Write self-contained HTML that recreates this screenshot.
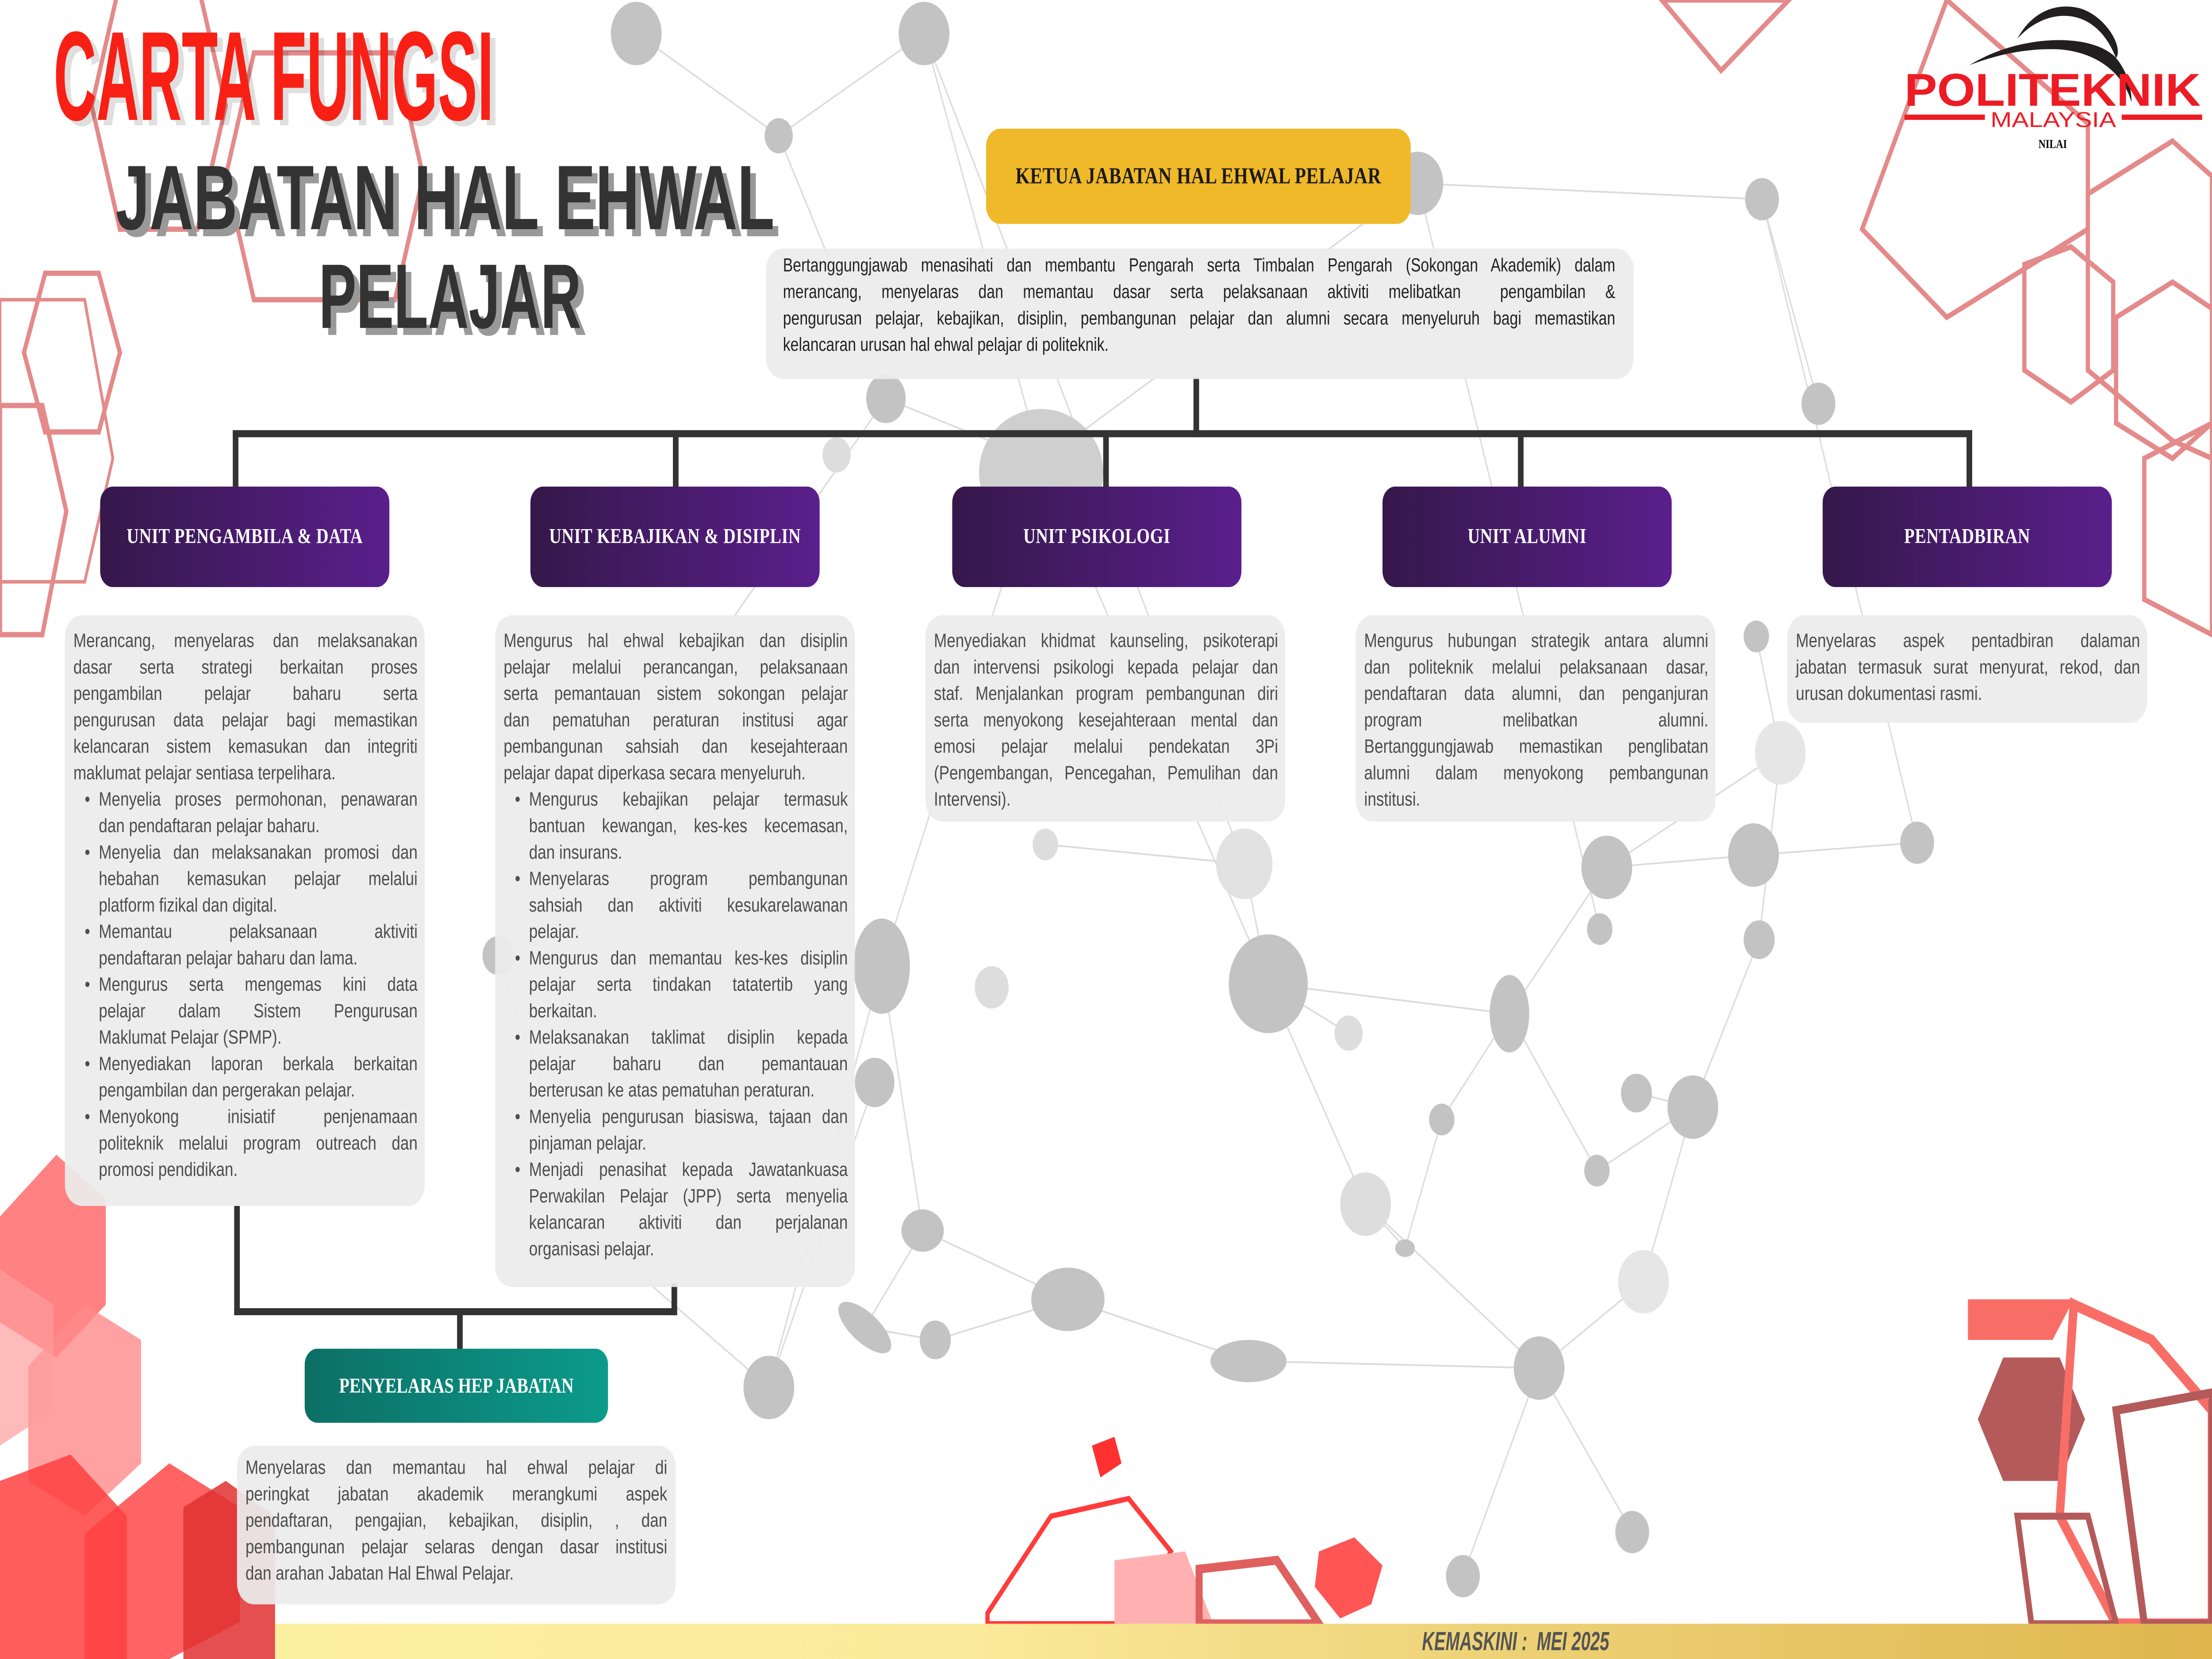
<!DOCTYPE html>
<html><head><meta charset="utf-8">
<style>
html,body{margin:0;padding:0;background:#fff;overflow:hidden}
body{width:100vw;height:100vh;position:relative}
#c{position:absolute;left:0;top:0;width:1568px;height:941px;transform:scale(3.98597,3.98512);transform-origin:0 0;background:#fff;overflow:hidden}
svg.bg{position:absolute;left:0;top:0}
.tb{position:absolute;background:rgba(236,236,236,0.93);border-radius:12px;font:11px/15px "Liberation Sans Narrow","Liberation Sans",sans-serif;color:#4d4d4d;box-sizing:border-box}
.j{text-align:justify;text-align-last:justify}
.li{position:relative;padding-left:18px}
.li:before{content:"•";position:absolute;left:8px;top:0}
.unit{position:absolute;top:276px;width:205px;height:57px;border-radius:9px;background:linear-gradient(90deg,#35184a,#5a1f8c);color:#fff;font:bold 12px "Liberation Serif",serif;display:flex;align-items:center;justify-content:center;letter-spacing:0.2px}
.ln{position:absolute;background:#333}
</style></head><body><div id="c">
<svg class="bg" width="1568" height="941" viewBox="0 0 1568 941">
<g stroke="#dcdcdc" stroke-width="1" fill="none">
<path d="M451 19 L552 77 L655 19 M552 77 L628 226 L738 262 L655 19 M1005 104 L1249 113 M1005 104 L738 262 M1249 113 L1289 229 M1249 113 L1359 478 M628 226 L353 542 M738 262 L625 548 L545 787 M738 262 L899 558 L1070 575 L1139 492 L1243 485 L1359 478 M899 558 L968 683 L1091 776 L1165 727 L1200 628 L1160 620 M625 548 L654 698 L757 737 L885 772 L1091 776 M654 698 L613 753 L663 760 L757 737 M1070 575 L1132 664 L1200 628 M899 558 L882 490 L741 479 M1139 492 L1262 427 L1245 361 M1070 575 L1022 635 L996 708 L968 683 M545 787 L620 614 M1091 776 L1037 894 M1091 776 L1157 869 M1262 427 L1247 533 L1200 628 M956 586 L899 558 M353 542 L420 700 L545 787 M1005 104 L1134 527 M655 19 L882 490"/>
</g>
<g fill="#c3c3c3">
<circle cx="451" cy="19" r="18"/><circle cx="655" cy="19" r="18"/><circle cx="552" cy="77" r="10"/>
<circle cx="1005" cy="104" r="18"/><circle cx="1249" cy="113" r="12"/><circle cx="628" cy="226" r="14"/>
<ellipse cx="738" cy="268" rx="44" ry="36" fill="#cfcfcf"/><circle cx="1289" cy="229" r="12"/><circle cx="1245" cy="361" r="9"/>
<circle cx="1262" cy="427" r="18" fill="#e6e6e6"/><circle cx="1359" cy="478" r="12"/><circle cx="1139" cy="492" r="18"/>
<circle cx="1243" cy="485" r="18"/><circle cx="899" cy="558" r="28"/><ellipse cx="1070" cy="575" rx="14" ry="22"/>
<circle cx="1247" cy="533" r="11"/><circle cx="1134" cy="527" r="9"/><ellipse cx="625" cy="548" rx="20" ry="27"/>
<circle cx="353" cy="542" r="11"/><circle cx="956" cy="586" r="10" fill="#ddd"/><circle cx="1160" cy="620" r="11"/>
<circle cx="1200" cy="628" r="18"/><circle cx="1022" cy="635" r="9"/><circle cx="1132" cy="664" r="9"/>
<circle cx="968" cy="683" r="18" fill="#ddd"/><circle cx="620" cy="614" r="14"/><ellipse cx="757" cy="737" rx="26" ry="18"/>
<ellipse cx="654" cy="698" rx="15" ry="12"/><ellipse cx="613" cy="753" rx="22" ry="9" transform="rotate(35 613 753)"/>
<circle cx="663" cy="760" r="11"/><ellipse cx="885" cy="772" rx="27" ry="12"/><circle cx="1091" cy="776" r="18"/>
<circle cx="545" cy="787" r="18"/><ellipse cx="996" cy="708" rx="7" ry="5"/><circle cx="1165" cy="727" r="18" fill="#e6e6e6"/>
<circle cx="1037" cy="894" r="12"/><circle cx="1157" cy="869" r="12"/><circle cx="741" cy="479" r="9" fill="#ddd"/>
<circle cx="882" cy="490" r="20" fill="#e2e2e2"/><circle cx="593" cy="258" r="10" fill="#ddd"/><circle cx="703" cy="560" r="12" fill="#ddd"/>
</g>
<g fill="none" stroke="#e48a8a" stroke-width="3">
<polygon points="85,-10 140,-10 160,60 140,130 85,130 65,60"/>
<polygon points="180,30 280,30 300,100 280,170 180,170 160,100"/>
<polygon points="32,155 70,155 85,200 70,245 32,245 17,200"/>
<polygon points="0,230 30,230 47,290 30,360 0,360"/>
<polygon points="0,170 60,170 80,260 60,330 0,330" stroke-width="2"/>
<polygon points="1178,0 1220,40 1268,0"/>
<polygon points="1380,0 1480,70 1480,130 1380,180 1320,130"/>
<polygon points="1480,110 1540,80 1568,100 1568,260 1540,250 1480,210"/>
<polygon points="1435,150 1468,140 1498,160 1498,210 1468,228 1435,210"/>
<polygon points="1500,180 1540,160 1568,175 1568,240 1540,260 1500,240"/>
<polygon points="1520,260 1568,240 1568,360 1520,340"/>
</g>
<g>
<polygon points="0,690 40,655 75,680 75,740 40,770 0,750" fill="#ff6b6b" opacity="0.85"/>
<polygon points="20,775 60,740 100,760 100,830 60,860 20,840" fill="#ff8a8a" opacity="0.8"/>
<polygon points="0,720 38,740 38,800 0,820" fill="#ff9c9c" opacity="0.7"/>
<polygon points="60,870 120,830 170,855 170,920 120,941 60,941" fill="#ff5252" opacity="0.9"/>
<polygon points="130,855 160,840 195,860 195,941 130,941" fill="#e03030" opacity="0.85"/>
<polygon points="0,840 50,825 90,860 90,941 0,941" fill="#ff4040" opacity="0.85"/>
<polygon points="774,820 790,815 795,830 780,838" fill="#ff3030"/>
<polygon points="935,880 960,872 980,888 972,910 950,918 932,900" fill="#ff5555"/>
<polygon points="700,915 745,860 800,850 830,880 800,921 700,921" fill="none" stroke="#ff3b3b" stroke-width="3"/>
<polygon points="790,885 840,880 860,921 790,921" fill="#ffb0b0"/>
<polygon points="850,890 905,885 935,921 850,921" fill="none" stroke="#e06060" stroke-width="5"/>
<polygon points="1395,737 1470,737 1455,760 1395,760" fill="#f86e66"/>
<polygon points="1420,770 1460,770 1478,805 1460,840 1420,840 1402,805" fill="#b45a5a"/>
<polygon points="1470,740 1525,760 1568,800 1568,921 1500,921 1460,860" fill="none" stroke="#f86e66" stroke-width="6"/>
<polygon points="1500,800 1568,790 1568,921 1520,921" fill="none" stroke="#b45a5a" stroke-width="5"/>
<polygon points="1430,860 1480,860 1500,921 1440,921" fill="none" stroke="#b45a5a" stroke-width="4"/>
</g>
<g font-family="Liberation Sans Narrow,Liberation Sans,sans-serif" font-weight="bold" lengthAdjust="spacingAndGlyphs">
<text x="42" y="71" font-size="72" textLength="312" lengthAdjust="spacingAndGlyphs" fill="#000" opacity="0.12">CARTA FUNGSI</text>
<text x="38" y="68" font-size="72" textLength="312" lengthAdjust="spacingAndGlyphs" fill="#f82015">CARTA FUNGSI</text>
<text x="86" y="134" font-size="52" textLength="467" lengthAdjust="spacingAndGlyphs" fill="#999">JABATAN HAL EHWAL</text>
<text x="82" y="130" font-size="52" textLength="467" lengthAdjust="spacingAndGlyphs" fill="#333">JABATAN HAL EHWAL</text>
<text x="230" y="190" font-size="52" textLength="186" lengthAdjust="spacingAndGlyphs" fill="#999">PELAJAR</text>
<text x="226" y="186" font-size="52" textLength="186" lengthAdjust="spacingAndGlyphs" fill="#333">PELAJAR</text>
</g>
<path d="M1430 22 C1450 4 1485 2 1500 33 C1506 26 1490 6 1470 4 C1452 2 1438 10 1430 22Z" fill="#231f20"/>
<path d="M1396 37 C1430 20 1480 18 1499 32 C1508 40 1511 50 1511 58 C1506 44 1490 30 1460 28 C1435 27 1412 32 1396 37Z" fill="#231f20"/>
<text x="1350" y="60" font-family="Liberation Sans,sans-serif" font-weight="bold" font-size="26" textLength="210" lengthAdjust="spacingAndGlyphs" fill="#ed1c24">POLITEKNIK</text>
<rect x="1350" y="65" width="57" height="3" fill="#ed1c24"/><rect x="1504" y="65" width="57" height="3" fill="#ed1c24"/>
<text x="1411" y="72" font-family="Liberation Sans,sans-serif" font-size="12" textLength="89" lengthAdjust="spacingAndGlyphs" fill="#ed1c24">MALAYSIA</text>
<text x="1445" y="84" font-family="Liberation Serif,serif" font-weight="bold" font-size="7" fill="#000">NILAI</text>
</svg>

<div style="position:absolute;left:195px;top:921px;width:1373px;height:20px;background:linear-gradient(90deg,#fdefa0,#fbeb9c 35%,#efd47a 60%,#dfb64e)"></div>
<div style="position:absolute;left:1008px;top:922px;width:145px;height:19px;font:italic bold 15px 'Liberation Sans Narrow','Liberation Sans',sans-serif;color:#555;white-space:nowrap;transform:scaleX(0.8);transform-origin:0 0;line-height:19px">KEMASKINI :&nbsp; MEI 2025</div>

<div class="ln" style="left:846px;top:214px;width:4px;height:34px"></div>
<div class="ln" style="left:165px;top:244px;width:1233px;height:4px"></div>
<div class="ln" style="left:165px;top:244px;width:4px;height:33px"></div>
<div class="ln" style="left:477px;top:244px;width:4px;height:33px"></div>
<div class="ln" style="left:782px;top:244px;width:4px;height:33px"></div>
<div class="ln" style="left:1076px;top:244px;width:4px;height:33px"></div>
<div class="ln" style="left:1394px;top:244px;width:4px;height:33px"></div>
<div class="ln" style="left:166px;top:684px;width:4px;height:62px"></div>
<div class="ln" style="left:166px;top:742px;width:314px;height:4px"></div>
<div class="ln" style="left:476px;top:728px;width:4px;height:18px"></div>
<div class="ln" style="left:324px;top:742px;width:4px;height:24px"></div>

<div style="position:absolute;left:699px;top:73px;width:301px;height:54px;border-radius:10px;background:#f0b92a;display:flex;align-items:center;justify-content:center;font:bold 13px 'Liberation Serif',serif;color:#1a1a1a;letter-spacing:0.2px">KETUA JABATAN HAL EHWAL PELAJAR</div>

<div class="tb" style="left:543px;top:141px;width:615px;height:74px;padding:3px 13px 0 12px;color:#222;font-size:10.6px">
<div class="j">Bertanggungjawab menasihati dan membantu Pengarah serta Timbalan Pengarah (Sokongan Akademik) dalam</div>
<div class="j">merancang, menyelaras dan memantau dasar serta pelaksanaan aktiviti melibatkan&nbsp; pengambilan &amp;</div>
<div class="j">pengurusan pelajar, kebajikan, disiplin, pembangunan pelajar dan alumni secara menyeluruh bagi memastikan</div>
<div>kelancaran urusan hal ehwal pelajar di politeknik.</div>
</div>

<div class="unit" style="left:71px">UNIT PENGAMBILA &amp; DATA</div>
<div class="unit" style="left:376px">UNIT KEBAJIKAN &amp; DISIPLIN</div>
<div class="unit" style="left:675px">UNIT PSIKOLOGI</div>
<div class="unit" style="left:980px">UNIT ALUMNI</div>
<div class="unit" style="left:1292px">PENTADBIRAN</div>

<div class="tb" style="left:46px;top:349px;width:255px;height:335px;padding:8px 5px 0 6px">
<div class="j">Merancang, menyelaras dan melaksanakan</div>
<div class="j">dasar serta strategi berkaitan proses</div>
<div class="j">pengambilan pelajar baharu serta</div>
<div class="j">pengurusan data pelajar bagi memastikan</div>
<div class="j">kelancaran sistem kemasukan dan integriti</div>
<div>maklumat pelajar sentiasa terpelihara.</div>
<div class="li"><div class="j">Menyelia proses permohonan, penawaran</div><div>dan pendaftaran pelajar baharu.</div></div>
<div class="li"><div class="j">Menyelia dan melaksanakan promosi dan</div><div class="j">hebahan kemasukan pelajar melalui</div><div>platform fizikal dan digital.</div></div>
<div class="li"><div class="j">Memantau pelaksanaan aktiviti</div><div>pendaftaran pelajar baharu dan lama.</div></div>
<div class="li"><div class="j">Mengurus serta mengemas kini data</div><div class="j">pelajar dalam Sistem Pengurusan</div><div>Maklumat Pelajar (SPMP).</div></div>
<div class="li"><div class="j">Menyediakan laporan berkala berkaitan</div><div>pengambilan dan pergerakan pelajar.</div></div>
<div class="li"><div class="j">Menyokong inisiatif penjenamaan</div><div class="j">politeknik melalui program outreach dan</div><div>promosi pendidikan.</div></div>
</div>

<div class="tb" style="left:351px;top:349px;width:255px;height:381px;padding:8px 5px 0 6px">
<div class="j">Mengurus hal ehwal kebajikan dan disiplin</div>
<div class="j">pelajar melalui perancangan, pelaksanaan</div>
<div class="j">serta pemantauan sistem sokongan pelajar</div>
<div class="j">dan pematuhan peraturan institusi agar</div>
<div class="j">pembangunan sahsiah dan kesejahteraan</div>
<div>pelajar dapat diperkasa secara menyeluruh.</div>
<div class="li"><div class="j">Mengurus kebajikan pelajar termasuk</div><div class="j">bantuan kewangan, kes-kes kecemasan,</div><div>dan insurans.</div></div>
<div class="li"><div class="j">Menyelaras program pembangunan</div><div class="j">sahsiah dan aktiviti kesukarelawanan</div><div>pelajar.</div></div>
<div class="li"><div class="j">Mengurus dan memantau kes-kes disiplin</div><div class="j">pelajar serta tindakan tatatertib yang</div><div>berkaitan.</div></div>
<div class="li"><div class="j">Melaksanakan taklimat disiplin kepada</div><div class="j">pelajar baharu dan pemantauan</div><div>berterusan ke atas pematuhan peraturan.</div></div>
<div class="li"><div class="j">Menyelia pengurusan biasiswa, tajaan dan</div><div>pinjaman pelajar.</div></div>
<div class="li"><div class="j">Menjadi penasihat kepada Jawatankuasa</div><div class="j">Perwakilan Pelajar (JPP) serta menyelia</div><div class="j">kelancaran aktiviti dan perjalanan</div><div>organisasi pelajar.</div></div>
</div>

<div class="tb" style="left:656px;top:349px;width:255px;height:117px;padding:8px 5px 0 6px">
<div class="j">Menyediakan khidmat kaunseling, psikoterapi</div>
<div class="j">dan intervensi psikologi kepada pelajar dan</div>
<div class="j">staf. Menjalankan program pembangunan diri</div>
<div class="j">serta menyokong kesejahteraan mental dan</div>
<div class="j">emosi pelajar melalui pendekatan 3Pi</div>
<div class="j">(Pengembangan, Pencegahan, Pemulihan dan</div>
<div>Intervensi).</div>
</div>

<div class="tb" style="left:961px;top:349px;width:255px;height:117px;padding:8px 5px 0 6px">
<div class="j">Mengurus hubungan strategik antara alumni</div>
<div class="j">dan politeknik melalui pelaksanaan dasar,</div>
<div class="j">pendaftaran data alumni, dan penganjuran</div>
<div class="j">program melibatkan alumni.</div>
<div class="j">Bertanggungjawab memastikan penglibatan</div>
<div class="j">alumni dalam menyokong pembangunan</div>
<div>institusi.</div>
</div>

<div class="tb" style="left:1267px;top:349px;width:255px;height:61px;padding:8px 5px 0 6px">
<div class="j">Menyelaras aspek pentadbiran dalaman</div>
<div class="j">jabatan termasuk surat menyurat, rekod, dan</div>
<div>urusan dokumentasi rasmi.</div>
</div>

<div style="position:absolute;left:216px;top:765px;width:215px;height:42px;border-radius:9px;background:linear-gradient(90deg,#0d6f66,#0b9b8b);color:#fff;font:bold 12px 'Liberation Serif',serif;display:flex;align-items:center;justify-content:center">PENYELARAS HEP JABATAN</div>

<div class="tb" style="left:168px;top:820px;width:311px;height:90px;padding:6px 6px 0 6px">
<div class="j">Menyelaras dan memantau hal ehwal pelajar di</div>
<div class="j">peringkat jabatan akademik merangkumi aspek</div>
<div class="j">pendaftaran, pengajian, kebajikan, disiplin, , dan</div>
<div class="j">pembangunan pelajar selaras dengan dasar institusi</div>
<div>dan arahan Jabatan Hal Ehwal Pelajar.</div>
</div>
</div>
<script>
(function(){var c=document.getElementById('c');var w=window.innerWidth||document.documentElement.clientWidth,h=window.innerHeight||document.documentElement.clientHeight;if(w&&h){c.style.transform='scale('+(w/1568)+','+(h/941)+')';}})();
</script>
</body></html>
